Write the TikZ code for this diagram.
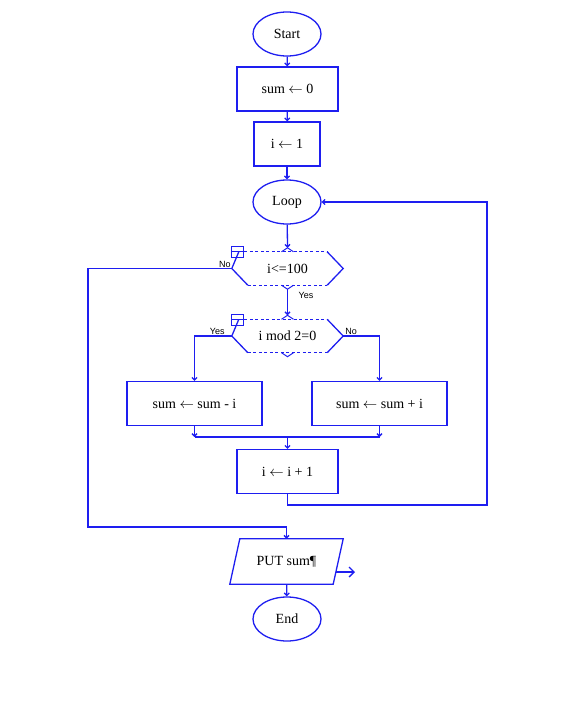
\documentclass[tikz,border=0pt]{standalone}
\usepackage{fontspec}
\setmainfont{Liberation Serif}
\newfontfamily\answerfont{Liberation Sans}
\usepackage{tikz}
\usetikzlibrary{arrows.meta}
\usetikzlibrary{shapes.geometric}

\definecolor{flowblue}{RGB}{30,30,240}

% outline of a decision box: dashed top and bottom, solid sides
\newcommand{\hexoutline}[1]{%
    \draw[flowblue, line width=1.3pt]
        ([xshift=7pt]#1.north west) -- (#1.west) -- ([xshift=16pt]#1.south west);
    \draw[flowblue, line width=1.3pt]
        ([xshift=-16pt]#1.north east) -- (#1.east) -- ([xshift=-16pt]#1.south east);
    \draw[flowblue, line width=0.8pt, dash pattern=on 3pt off 2.5pt]
        ([xshift=7pt]#1.north west) -- ([xshift=-16pt]#1.north east);
    \draw[flowblue, line width=0.8pt, dash pattern=on 3pt off 2.5pt]
        ([xshift=16pt]#1.south west) -- ([xshift=-16pt]#1.south east);
    \draw[flowblue, line width=1pt]
        ([xshift=-6pt]#1.north) -- ([yshift=4pt]#1.north) -- ([xshift=6pt]#1.north);
    \draw[flowblue, line width=1pt]
        ([xshift=-6pt]#1.south) -- ([yshift=-4pt]#1.south) -- ([xshift=6pt]#1.south);
    \draw[flowblue, line width=1.3pt]
        ([xshift=-0.5pt,yshift=5pt]#1.north west) rectangle ([xshift=11.5pt,yshift=-6pt]#1.north west);
    \draw[flowblue, line width=1.3pt]
        ([xshift=-0.5pt]#1.north west) -- ([xshift=11.5pt]#1.north west);
}

\begin{document}
\begin{tikzpicture}[x=1pt, y=-1pt]
    \tikzset{>={Straight Barb[length=2.5pt,width=5pt]}}
    \tikzset{
        terminal/.style={draw=flowblue, line width=1.3pt, ellipse, minimum width=68pt,
            minimum height=44pt, inner sep=0pt, font=\fontsize{14}{16}\selectfont},
        process/.style={draw=flowblue, line width=1.3pt, rectangle, minimum height=44pt,
            inner sep=0pt, font=\fontsize{14}{16}\selectfont},
        decision/.style={rectangle, minimum width=111pt, minimum height=33pt,
            inner sep=0pt, font=\fontsize{14}{16}\selectfont},
        flow/.style={draw=flowblue, line width=1.3pt, ->},
        answer/.style={font=\answerfont\fontsize{9}{10}\selectfont, inner sep=1pt}
    }

    \useasboundingbox (0,0) rectangle (583,707);

    % Draw the boxes
    \node[terminal] (start) at (287,34) {Start};
    \node[process, minimum width=101pt] (sumzero) at (287.5,89) {sum $\leftarrow$ 0};
    \node[process, minimum width=66pt] (ione) at (287,144) {i $\leftarrow$ 1};
    \node[terminal] (loop) at (287,202) {Loop};
    \node[decision] (cond1) at (287.5,268.5) {i<=100};
    \node[decision] (cond2) at (287.5,336) {i mod 2=0};
    \node[process, minimum width=135pt] (minus) at (194.5,403.5) {sum $\leftarrow$ sum - i};
    \node[process, minimum width=135pt] (plus) at (379.5,403.5) {sum $\leftarrow$ sum + i};
    \node[process, minimum width=101pt] (inc) at (287.5,471.5) {i $\leftarrow$ i + 1};
    \node[rectangle, minimum width=103pt, minimum height=45pt, inner sep=0pt,
        font=\fontsize{14}{16}\selectfont] (put) at (286.5,561.5) {PUT sum¶};
    \node[terminal] (stop) at (287,619) {End};

    \hexoutline{cond1}
    \hexoutline{cond2}

    % the output box
    \draw[flowblue, line width=1.3pt]
        ([xshift=5pt]put.north west) -- ([xshift=5pt]put.north east)
        -- ([xshift=-5pt]put.south east) -- ([xshift=-5pt]put.south west) -- cycle;

    % Some helper points
    \coordinate (nobottom) at (88,527);
    \coordinate (joinl) at (194.5,437);
    \coordinate (joinr) at (379.5,437);
    \coordinate (backturn) at (487,505);
    \coordinate (putout) at (355,572);

    % Straight flow
    \draw[flow] (start) -- (sumzero);
    \draw[flow] (sumzero) -- (ione);
    \draw[flow] (ione) -- (loop);
    \draw[flow] (loop) -- ([yshift=4pt]cond1.north);
    \draw[flow] ([yshift=-4pt]cond1.south) -- ([yshift=4pt]cond2.north);
    \draw[flow] (put) -- (stop);

    % Branches
    \draw[flow] (cond2.west) -| (minus.north);
    \draw[flow] (cond2.east) -| (plus.north);
    \draw[flow] (minus) -- (joinl);
    \draw[flow] (plus) -- (joinr);
    \draw[flowblue, line width=1.3pt] (joinl) -- (joinr);
    \draw[flow] (joinl -| inc) -- (inc);

    % Back to the loop and the way out
    \draw[flow] (inc) |- (backturn) |- (loop);
    \draw[flow] (cond1.west) -| (nobottom) -| (put);
    \draw[flowblue, line width=1.3pt, -{Straight Barb[length=5pt,width=10pt]}]
        ([shift={(-2.5,10.5)}]put.east) -- (putout);

    % Answers
    \node[answer, anchor=south east] (no1) at (cond1.west) {No};
    \node[answer, anchor=north west] (yes1) at ([xshift=10pt,yshift=-6pt]cond1.south) {Yes};
    \node[answer, anchor=south east] (yes2) at ([xshift=-6pt]cond2.west) {Yes};
    \node[answer, anchor=south west] (no2) at ([xshift=1pt]cond2.east) {No};
\end{tikzpicture}
\end{document}
